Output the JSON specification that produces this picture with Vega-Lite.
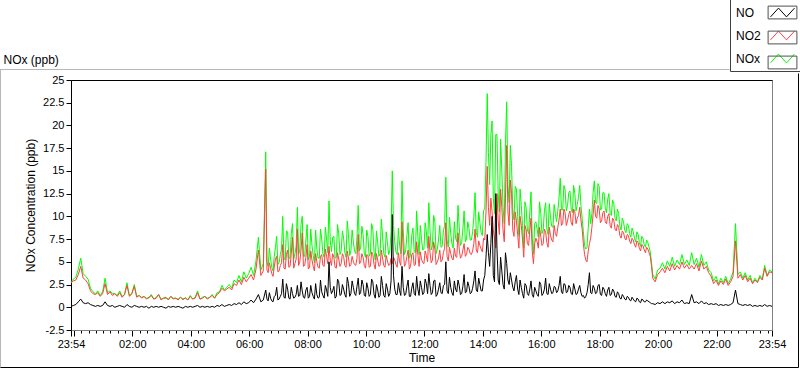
{
  "$schema": "https://vega.github.io/schema/vega-lite/v6.json",
  "width": 701,
  "height": 250,
  "autosize": {"type": "none"},
  "padding": {"left": 71, "top": 80, "right": 28, "bottom": 39},
  "background": "white",
  "data": {"values": [
{"m":0,"NO":0.1,"NO2":2.7,"NOx":2.8},{"m":5,"NO":0.2,"NO2":2.9,"NOx":3.1},{"m":10,"NO":0.3,"NO2":3.0,"NOx":3.3},{"m":15,"NO":0.6,"NO2":3.6,"NOx":4.2},{"m":20,"NO":0.9,"NO2":4.5,"NOx":5.4},{"m":25,"NO":0.5,"NO2":3.2,"NOx":3.7},{"m":30,"NO":0.4,"NO2":3.0,"NOx":3.4},{"m":35,"NO":0.5,"NO2":2.6,"NOx":3.1},{"m":40,"NO":0.3,"NO2":1.8,"NOx":2.1},{"m":45,"NO":0.2,"NO2":1.5,"NOx":1.7},
{"m":50,"NO":0.1,"NO2":1.4,"NOx":1.5},{"m":55,"NO":0.2,"NO2":1.6,"NOx":1.8},{"m":60,"NO":0.1,"NO2":1.2,"NOx":1.3},{"m":65,"NO":0.2,"NO2":1.5,"NOx":1.7},{"m":70,"NO":0.6,"NO2":2.6,"NOx":3.2},{"m":75,"NO":0.2,"NO2":1.4,"NOx":1.6},{"m":80,"NO":0.1,"NO2":1.7,"NOx":1.8},{"m":85,"NO":0.2,"NO2":1.3,"NOx":1.5},{"m":90,"NO":0.0,"NO2":1.5,"NOx":1.5},{"m":95,"NO":0.1,"NO2":1.2,"NOx":1.3},
{"m":100,"NO":0.2,"NO2":1.6,"NOx":1.8},{"m":105,"NO":0.1,"NO2":1.1,"NOx":1.2},{"m":110,"NO":0.0,"NO2":1.4,"NOx":1.4},{"m":115,"NO":0.3,"NO2":2.4,"NOx":2.7},{"m":120,"NO":0.1,"NO2":1.2,"NOx":1.3},{"m":125,"NO":0.0,"NO2":1.5,"NOx":1.5},{"m":130,"NO":0.2,"NO2":2.3,"NOx":2.5},{"m":135,"NO":0.1,"NO2":1.1,"NOx":1.2},{"m":140,"NO":0.0,"NO2":1.3,"NOx":1.3},{"m":145,"NO":0.1,"NO2":1.0,"NOx":1.1},
{"m":150,"NO":0.0,"NO2":1.2,"NOx":1.2},{"m":155,"NO":0.1,"NO2":0.9,"NOx":1.0},{"m":160,"NO":-0.1,"NO2":1.1,"NOx":1.0},{"m":165,"NO":0.1,"NO2":1.3,"NOx":1.4},{"m":170,"NO":0.0,"NO2":0.9,"NOx":0.9},{"m":175,"NO":0.1,"NO2":1.0,"NOx":1.1},{"m":180,"NO":0.0,"NO2":1.4,"NOx":1.4},{"m":185,"NO":0.1,"NO2":0.8,"NOx":0.9},{"m":190,"NO":0.0,"NO2":1.0,"NOx":1.0},{"m":195,"NO":-0.1,"NO2":1.1,"NOx":1.0},
{"m":200,"NO":0.1,"NO2":0.8,"NOx":0.9},{"m":205,"NO":0.0,"NO2":1.2,"NOx":1.2},{"m":210,"NO":0.1,"NO2":0.9,"NOx":1.0},{"m":215,"NO":0.0,"NO2":1.0,"NOx":1.0},{"m":220,"NO":0.1,"NO2":0.8,"NOx":0.9},{"m":225,"NO":0.0,"NO2":1.1,"NOx":1.1},{"m":230,"NO":-0.1,"NO2":0.9,"NOx":0.8},{"m":235,"NO":0.1,"NO2":1.0,"NOx":1.1},{"m":240,"NO":0.0,"NO2":0.8,"NOx":0.8},{"m":245,"NO":0.1,"NO2":1.2,"NOx":1.3},
{"m":250,"NO":0.0,"NO2":0.9,"NOx":0.9},{"m":255,"NO":0.1,"NO2":1.0,"NOx":1.1},{"m":260,"NO":0.2,"NO2":1.6,"NOx":1.8},{"m":265,"NO":0.0,"NO2":0.9,"NOx":0.9},{"m":270,"NO":0.1,"NO2":1.0,"NOx":1.1},{"m":275,"NO":0.0,"NO2":1.2,"NOx":1.2},{"m":280,"NO":0.1,"NO2":0.9,"NOx":1.0},{"m":285,"NO":0.0,"NO2":1.1,"NOx":1.1},{"m":290,"NO":0.1,"NO2":1.3,"NOx":1.4},{"m":295,"NO":0.0,"NO2":1.0,"NOx":1.0},
{"m":300,"NO":0.2,"NO2":1.4,"NOx":1.6},{"m":305,"NO":0.1,"NO2":1.6,"NOx":1.7},{"m":310,"NO":0.3,"NO2":2.1,"NOx":2.4},{"m":315,"NO":0.1,"NO2":1.8,"NOx":1.9},{"m":320,"NO":0.2,"NO2":2.0,"NOx":2.2},{"m":325,"NO":0.3,"NO2":2.2,"NOx":2.5},{"m":330,"NO":0.2,"NO2":1.9,"NOx":2.1},{"m":335,"NO":0.4,"NO2":2.6,"NOx":3.0},{"m":340,"NO":0.3,"NO2":2.4,"NOx":2.7},{"m":345,"NO":0.5,"NO2":3.0,"NOx":3.5},
{"m":350,"NO":0.3,"NO2":2.5,"NOx":2.8},{"m":355,"NO":0.6,"NO2":3.3,"NOx":3.9},{"m":360,"NO":0.4,"NO2":2.8,"NOx":3.2},{"m":365,"NO":0.5,"NO2":3.2,"NOx":3.7},{"m":370,"NO":0.8,"NO2":3.6,"NOx":4.4},{"m":375,"NO":0.5,"NO2":3.0,"NOx":3.5},{"m":380,"NO":0.9,"NO2":4.2,"NOx":5.1},{"m":385,"NO":1.4,"NO2":6.3,"NOx":7.7},{"m":390,"NO":0.6,"NO2":3.5,"NOx":4.1},{"m":395,"NO":0.8,"NO2":4.0,"NOx":4.8},
{"m":400,"NO":1.9,"NO2":15.2,"NOx":17.1},{"m":405,"NO":0.7,"NO2":3.8,"NOx":4.5},{"m":410,"NO":1.0,"NO2":4.3,"NOx":5.3},{"m":415,"NO":0.6,"NO2":3.4,"NOx":4.0},{"m":420,"NO":1.3,"NO2":5.3,"NOx":6.6},{"m":425,"NO":0.8,"NO2":3.9,"NOx":4.7},{"m":430,"NO":1.2,"NO2":4.6,"NOx":5.8},{"m":435,"NO":3.1,"NO2":6.9,"NOx":10.0},{"m":440,"NO":1.0,"NO2":4.2,"NOx":5.2},{"m":445,"NO":2.0,"NO2":6.3,"NOx":8.3},
{"m":450,"NO":0.9,"NO2":4.5,"NOx":5.4},{"m":455,"NO":1.5,"NO2":7.7,"NOx":9.2},{"m":460,"NO":1.1,"NO2":4.8,"NOx":5.9},{"m":465,"NO":2.4,"NO2":8.6,"NOx":11.0},{"m":470,"NO":1.3,"NO2":5.0,"NOx":6.3},{"m":475,"NO":1.8,"NO2":8.2,"NOx":10.0},{"m":480,"NO":1.0,"NO2":4.6,"NOx":5.6},{"m":485,"NO":2.2,"NO2":6.9,"NOx":9.1},{"m":490,"NO":1.2,"NO2":4.4,"NOx":5.6},{"m":495,"NO":1.6,"NO2":5.2,"NOx":6.8},
{"m":500,"NO":0.9,"NO2":4.0,"NOx":4.9},{"m":505,"NO":1.4,"NO2":5.0,"NOx":6.4},{"m":510,"NO":1.1,"NO2":4.3,"NOx":5.4},{"m":515,"NO":1.7,"NO2":5.8,"NOx":7.5},{"m":520,"NO":1.0,"NO2":4.5,"NOx":5.5},{"m":525,"NO":1.9,"NO2":5.6,"NOx":7.5},{"m":530,"NO":5.0,"NO2":6.7,"NOx":11.7},{"m":535,"NO":1.5,"NO2":4.6,"NOx":6.1},{"m":540,"NO":2.3,"NO2":5.5,"NOx":7.8},{"m":545,"NO":1.2,"NO2":4.3,"NOx":5.5},
{"m":550,"NO":2.8,"NO2":5.3,"NOx":8.1},{"m":555,"NO":1.4,"NO2":4.8,"NOx":6.2},{"m":560,"NO":2.0,"NO2":5.6,"NOx":7.6},{"m":565,"NO":1.1,"NO2":4.4,"NOx":5.5},{"m":570,"NO":2.6,"NO2":5.4,"NOx":8.0},{"m":575,"NO":1.5,"NO2":4.7,"NOx":6.2},{"m":580,"NO":2.2,"NO2":5.0,"NOx":7.2},{"m":585,"NO":1.3,"NO2":4.6,"NOx":5.9},{"m":590,"NO":3.2,"NO2":8.0,"NOx":11.2},{"m":595,"NO":1.6,"NO2":4.9,"NOx":6.5},
{"m":600,"NO":2.5,"NO2":5.5,"NOx":8.0},{"m":605,"NO":1.2,"NO2":4.3,"NOx":5.5},{"m":610,"NO":2.1,"NO2":5.7,"NOx":7.8},{"m":615,"NO":1.4,"NO2":4.5,"NOx":5.9},{"m":620,"NO":2.8,"NO2":5.8,"NOx":8.6},{"m":625,"NO":1.0,"NO2":4.2,"NOx":5.2},{"m":630,"NO":1.9,"NO2":5.2,"NOx":7.1},{"m":635,"NO":1.3,"NO2":4.6,"NOx":5.9},{"m":640,"NO":2.4,"NO2":5.4,"NOx":7.8},{"m":645,"NO":1.1,"NO2":4.4,"NOx":5.5},
{"m":650,"NO":2.0,"NO2":5.1,"NOx":7.1},{"m":655,"NO":1.5,"NO2":4.7,"NOx":6.2},{"m":660,"NO":10.2,"NO2":4.8,"NOx":15.0},{"m":665,"NO":2.0,"NO2":5.2,"NOx":7.2},{"m":670,"NO":1.4,"NO2":4.4,"NOx":5.8},{"m":675,"NO":1.8,"NO2":5.0,"NOx":6.8},{"m":680,"NO":4.5,"NO2":9.4,"NOx":13.9},{"m":685,"NO":1.3,"NO2":4.5,"NOx":5.8},{"m":690,"NO":2.3,"NO2":5.6,"NOx":7.9},{"m":695,"NO":1.2,"NO2":4.2,"NOx":5.4},
{"m":700,"NO":2.1,"NO2":5.8,"NOx":7.9},{"m":705,"NO":1.5,"NO2":4.6,"NOx":6.1},{"m":710,"NO":3.4,"NO2":7.2,"NOx":10.6},{"m":715,"NO":1.3,"NO2":4.5,"NOx":5.8},{"m":720,"NO":2.2,"NO2":5.3,"NOx":7.5},{"m":725,"NO":1.6,"NO2":4.8,"NOx":6.4},{"m":730,"NO":2.6,"NO2":5.7,"NOx":8.3},{"m":735,"NO":3.7,"NO2":7.8,"NOx":11.5},{"m":740,"NO":1.4,"NO2":4.9,"NOx":6.3},{"m":745,"NO":2.9,"NO2":7.2,"NOx":10.1},
{"m":750,"NO":1.2,"NO2":4.7,"NOx":5.9},{"m":755,"NO":2.0,"NO2":5.4,"NOx":7.4},{"m":760,"NO":1.6,"NO2":5.0,"NOx":6.6},{"m":765,"NO":2.4,"NO2":6.0,"NOx":8.4},{"m":770,"NO":5.0,"NO2":9.3,"NOx":14.3},{"m":775,"NO":1.5,"NO2":5.1,"NOx":6.6},{"m":780,"NO":2.2,"NO2":5.9,"NOx":8.1},{"m":785,"NO":1.3,"NO2":5.2,"NOx":6.5},{"m":790,"NO":2.0,"NO2":5.6,"NOx":7.6},{"m":795,"NO":3.0,"NO2":8.2,"NOx":11.2},
{"m":800,"NO":1.4,"NO2":5.4,"NOx":6.8},{"m":805,"NO":2.3,"NO2":6.3,"NOx":8.6},{"m":810,"NO":1.6,"NO2":5.6,"NOx":7.2},{"m":815,"NO":2.8,"NO2":6.6,"NOx":9.4},{"m":820,"NO":1.5,"NO2":5.9,"NOx":7.4},{"m":825,"NO":2.1,"NO2":6.2,"NOx":8.3},{"m":830,"NO":4.0,"NO2":8.6,"NOx":12.6},{"m":835,"NO":1.7,"NO2":6.0,"NOx":7.7},{"m":840,"NO":2.5,"NO2":6.8,"NOx":9.3},{"m":845,"NO":1.8,"NO2":6.1,"NOx":7.9},
{"m":850,"NO":3.5,"NO2":7.4,"NOx":10.9},{"m":855,"NO":8.0,"NO2":15.5,"NOx":23.5},{"m":860,"NO":4.5,"NO2":9.0,"NOx":13.5},{"m":865,"NO":10.0,"NO2":10.5,"NOx":20.5},{"m":870,"NO":2.8,"NO2":7.5,"NOx":10.3},{"m":875,"NO":6.5,"NO2":12.5,"NOx":19.0},{"m":880,"NO":2.5,"NO2":8.0,"NOx":10.5},{"m":885,"NO":4.0,"NO2":11.0,"NOx":15.0},{"m":890,"NO":2.0,"NO2":7.2,"NOx":9.2},{"m":895,"NO":4.8,"NO2":17.8,"NOx":22.6},
{"m":900,"NO":2.5,"NO2":9.0,"NOx":11.5},{"m":905,"NO":3.0,"NO2":12.5,"NOx":15.5},{"m":910,"NO":1.8,"NO2":7.8,"NOx":9.6},{"m":915,"NO":3.5,"NO2":9.5,"NOx":13.0},{"m":920,"NO":1.4,"NO2":6.5,"NOx":7.9},{"m":925,"NO":2.2,"NO2":9.0,"NOx":11.2},{"m":930,"NO":1.0,"NO2":5.5,"NOx":6.5},{"m":935,"NO":2.4,"NO2":8.5,"NOx":10.9},{"m":940,"NO":1.3,"NO2":6.8,"NOx":8.1},{"m":945,"NO":2.9,"NO2":9.8,"NOx":12.7},
{"m":950,"NO":1.1,"NO2":4.8,"NOx":5.9},{"m":955,"NO":1.8,"NO2":7.6,"NOx":9.4},{"m":960,"NO":1.2,"NO2":6.5,"NOx":7.7},{"m":965,"NO":2.5,"NO2":7.8,"NOx":10.3},{"m":970,"NO":1.5,"NO2":7.0,"NOx":8.5},{"m":975,"NO":3.2,"NO2":8.3,"NOx":11.5},{"m":980,"NO":1.4,"NO2":6.6,"NOx":8.0},{"m":985,"NO":2.0,"NO2":7.9,"NOx":9.9},{"m":990,"NO":1.6,"NO2":7.2,"NOx":8.8},{"m":995,"NO":2.2,"NO2":8.1,"NOx":10.3},
{"m":1000,"NO":1.8,"NO2":8.8,"NOx":10.6},{"m":1005,"NO":3.4,"NO2":10.8,"NOx":14.2},{"m":1010,"NO":1.5,"NO2":9.2,"NOx":10.7},{"m":1015,"NO":2.5,"NO2":10.4,"NOx":12.9},{"m":1020,"NO":1.7,"NO2":9.5,"NOx":11.2},{"m":1025,"NO":2.2,"NO2":10.6,"NOx":12.8},{"m":1030,"NO":1.4,"NO2":9.0,"NOx":10.4},{"m":1035,"NO":2.0,"NO2":10.5,"NOx":12.5},{"m":1040,"NO":1.5,"NO2":9.8,"NOx":11.3},{"m":1045,"NO":2.4,"NO2":11.0,"NOx":13.4},
{"m":1050,"NO":1.2,"NO2":8.6,"NOx":9.8},{"m":1055,"NO":1.0,"NO2":5.8,"NOx":6.8},{"m":1060,"NO":1.6,"NO2":5.0,"NOx":6.6},{"m":1065,"NO":3.8,"NO2":7.0,"NOx":10.8},{"m":1070,"NO":1.5,"NO2":8.8,"NOx":10.3},{"m":1075,"NO":2.1,"NO2":11.8,"NOx":13.9},{"m":1080,"NO":1.6,"NO2":9.8,"NOx":11.4},{"m":1085,"NO":2.5,"NO2":10.8,"NOx":13.3},{"m":1090,"NO":1.3,"NO2":9.5,"NOx":10.8},{"m":1095,"NO":2.0,"NO2":10.6,"NOx":12.6},
{"m":1100,"NO":1.2,"NO2":9.2,"NOx":10.4},{"m":1105,"NO":2.2,"NO2":10.3,"NOx":12.5},{"m":1110,"NO":1.4,"NO2":8.7,"NOx":10.1},{"m":1115,"NO":1.8,"NO2":9.6,"NOx":11.4},{"m":1120,"NO":1.1,"NO2":8.4,"NOx":9.5},{"m":1125,"NO":1.5,"NO2":8.8,"NOx":10.3},{"m":1130,"NO":0.9,"NO2":7.6,"NOx":8.5},{"m":1135,"NO":1.2,"NO2":8.2,"NOx":9.4},{"m":1140,"NO":0.8,"NO2":7.4,"NOx":8.2},{"m":1145,"NO":1.1,"NO2":7.9,"NOx":9.0},
{"m":1150,"NO":0.7,"NO2":7.0,"NOx":7.7},{"m":1155,"NO":0.9,"NO2":7.4,"NOx":8.3},{"m":1160,"NO":0.6,"NO2":6.6,"NOx":7.2},{"m":1165,"NO":0.9,"NO2":7.1,"NOx":8.0},{"m":1170,"NO":0.5,"NO2":6.2,"NOx":6.7},{"m":1175,"NO":0.8,"NO2":6.8,"NOx":7.6},{"m":1180,"NO":0.6,"NO2":6.0,"NOx":6.6},{"m":1185,"NO":0.7,"NO2":6.4,"NOx":7.1},{"m":1190,"NO":0.5,"NO2":5.6,"NOx":6.1},{"m":1195,"NO":0.4,"NO2":3.2,"NOx":3.6},
{"m":1200,"NO":0.3,"NO2":2.8,"NOx":3.1},{"m":1205,"NO":0.5,"NO2":3.6,"NOx":4.1},{"m":1210,"NO":0.4,"NO2":3.9,"NOx":4.3},{"m":1215,"NO":0.6,"NO2":4.3,"NOx":4.9},{"m":1220,"NO":0.4,"NO2":3.8,"NOx":4.2},{"m":1225,"NO":0.6,"NO2":4.5,"NOx":5.1},{"m":1230,"NO":0.5,"NO2":4.0,"NOx":4.5},{"m":1235,"NO":0.7,"NO2":4.8,"NOx":5.5},{"m":1240,"NO":0.4,"NO2":4.1,"NOx":4.5},{"m":1245,"NO":0.6,"NO2":4.6,"NOx":5.2},
{"m":1250,"NO":0.5,"NO2":4.2,"NOx":4.7},{"m":1255,"NO":0.8,"NO2":5.0,"NOx":5.8},{"m":1260,"NO":0.4,"NO2":4.3,"NOx":4.7},{"m":1265,"NO":0.5,"NO2":4.7,"NOx":5.2},{"m":1270,"NO":0.4,"NO2":4.2,"NOx":4.6},{"m":1275,"NO":1.4,"NO2":4.6,"NOx":6.0},{"m":1280,"NO":0.5,"NO2":4.2,"NOx":4.7},{"m":1285,"NO":0.6,"NO2":4.8,"NOx":5.4},{"m":1290,"NO":0.4,"NO2":4.0,"NOx":4.4},{"m":1295,"NO":0.7,"NO2":5.1,"NOx":5.8},
{"m":1300,"NO":0.4,"NO2":4.2,"NOx":4.6},{"m":1305,"NO":0.5,"NO2":4.5,"NOx":5.0},{"m":1310,"NO":0.3,"NO2":3.8,"NOx":4.1},{"m":1315,"NO":0.4,"NO2":3.4,"NOx":3.8},{"m":1320,"NO":0.3,"NO2":2.6,"NOx":2.9},{"m":1325,"NO":0.4,"NO2":3.0,"NOx":3.4},{"m":1330,"NO":0.2,"NO2":2.4,"NOx":2.6},{"m":1335,"NO":0.3,"NO2":2.9,"NOx":3.2},{"m":1340,"NO":0.2,"NO2":2.5,"NOx":2.7},{"m":1345,"NO":0.3,"NO2":3.1,"NOx":3.4},
{"m":1350,"NO":0.2,"NO2":2.4,"NOx":2.6},{"m":1355,"NO":0.3,"NO2":2.8,"NOx":3.1},{"m":1360,"NO":0.5,"NO2":3.4,"NOx":3.9},{"m":1365,"NO":1.9,"NO2":7.3,"NOx":9.2},{"m":1370,"NO":0.4,"NO2":3.2,"NOx":3.6},{"m":1375,"NO":0.3,"NO2":3.6,"NOx":3.9},{"m":1380,"NO":0.2,"NO2":3.0,"NOx":3.2},{"m":1385,"NO":0.3,"NO2":3.5,"NOx":3.8},{"m":1390,"NO":0.2,"NO2":2.8,"NOx":3.0},{"m":1395,"NO":0.3,"NO2":3.2,"NOx":3.5},
{"m":1400,"NO":0.1,"NO2":2.6,"NOx":2.7},{"m":1405,"NO":0.2,"NO2":3.0,"NOx":3.2},{"m":1410,"NO":0.1,"NO2":2.7,"NOx":2.8},{"m":1415,"NO":0.2,"NO2":3.3,"NOx":3.5},{"m":1420,"NO":0.1,"NO2":3.0,"NOx":3.1},{"m":1425,"NO":0.3,"NO2":4.3,"NOx":4.6},{"m":1430,"NO":0.1,"NO2":3.4,"NOx":3.5},{"m":1435,"NO":0.2,"NO2":3.9,"NOx":4.1},{"m":1440,"NO":0.1,"NO2":3.8,"NOx":3.9},
{"m":402.5,"NO":0.9,"NO2":4.1,"NOx":5.0},{"m":407.5,"NO":1.6,"NO2":4.9,"NOx":6.5},{"m":412.5,"NO":0.7,"NO2":3.7,"NOx":4.4},{"m":417.5,"NO":1.2,"NO2":4.4,"NOx":5.6},{"m":422.5,"NO":2.2,"NO2":5.6,"NOx":7.8},{"m":427.5,"NO":0.9,"NO2":4.0,"NOx":4.9},{"m":432.5,"NO":1.5,"NO2":4.9,"NOx":6.4},{"m":437.5,"NO":1.1,"NO2":4.3,"NOx":5.4},{"m":442.5,"NO":2.6,"NO2":5.8,"NOx":8.4},{"m":447.5,"NO":1.0,"NO2":4.4,"NOx":5.4},
{"m":452.5,"NO":2.2,"NO2":5.9,"NOx":8.1},{"m":457.5,"NO":1.0,"NO2":4.3,"NOx":5.3},{"m":462.5,"NO":1.4,"NO2":5.3,"NOx":6.7},{"m":467.5,"NO":1.2,"NO2":4.6,"NOx":5.8},{"m":472.5,"NO":2.8,"NO2":6.3,"NOx":9.1},{"m":477.5,"NO":1.1,"NO2":4.5,"NOx":5.6},{"m":482.5,"NO":1.9,"NO2":5.5,"NOx":7.4},{"m":487.5,"NO":1.0,"NO2":4.2,"NOx":5.2},{"m":492.5,"NO":2.4,"NO2":6.2,"NOx":8.6},{"m":497.5,"NO":1.2,"NO2":4.5,"NOx":5.7},
{"m":502.5,"NO":2.6,"NO2":5.9,"NOx":8.5},{"m":507.5,"NO":1.0,"NO2":4.4,"NOx":5.4},{"m":512.5,"NO":3.0,"NO2":5.6,"NOx":8.6},{"m":517.5,"NO":1.3,"NO2":4.6,"NOx":5.9},{"m":522.5,"NO":2.4,"NO2":6.4,"NOx":8.8},{"m":527.5,"NO":1.2,"NO2":4.8,"NOx":6.0},{"m":532.5,"NO":2.2,"NO2":5.2,"NOx":7.4},{"m":537.5,"NO":1.8,"NO2":5.9,"NOx":7.7},{"m":542.5,"NO":1.0,"NO2":4.4,"NOx":5.4},{"m":547.5,"NO":3.1,"NO2":6.0,"NOx":9.1},
{"m":552.5,"NO":1.3,"NO2":4.5,"NOx":5.8},{"m":557.5,"NO":2.5,"NO2":5.9,"NOx":8.4},{"m":562.5,"NO":1.4,"NO2":4.6,"NOx":6.0},{"m":567.5,"NO":3.3,"NO2":6.2,"NOx":9.5},{"m":572.5,"NO":1.2,"NO2":4.5,"NOx":5.7},{"m":577.5,"NO":2.9,"NO2":5.6,"NOx":8.5},{"m":582.5,"NO":1.5,"NO2":4.7,"NOx":6.2},{"m":587.5,"NO":2.3,"NO2":5.4,"NOx":7.7},{"m":592.5,"NO":1.4,"NO2":4.8,"NOx":6.2},{"m":597.5,"NO":3.0,"NO2":5.9,"NOx":8.9},
{"m":602.5,"NO":1.3,"NO2":4.6,"NOx":5.9},{"m":607.5,"NO":2.7,"NO2":5.8,"NOx":8.5},{"m":612.5,"NO":1.2,"NO2":4.4,"NOx":5.6},{"m":617.5,"NO":3.1,"NO2":6.1,"NOx":9.2},{"m":622.5,"NO":1.4,"NO2":4.7,"NOx":6.1},{"m":627.5,"NO":2.5,"NO2":5.9,"NOx":8.4},{"m":632.5,"NO":1.1,"NO2":4.5,"NOx":5.6},{"m":637.5,"NO":3.4,"NO2":6.3,"NOx":9.7},{"m":642.5,"NO":1.3,"NO2":4.6,"NOx":5.9},{"m":647.5,"NO":2.6,"NO2":5.7,"NOx":8.3},
{"m":652.5,"NO":1.2,"NO2":4.6,"NOx":5.8},{"m":657.5,"NO":2.9,"NO2":5.4,"NOx":8.3},{"m":662.5,"NO":3.5,"NO2":5.5,"NOx":9.0},{"m":667.5,"NO":1.4,"NO2":4.7,"NOx":6.1},{"m":672.5,"NO":2.7,"NO2":6.0,"NOx":8.7},{"m":677.5,"NO":1.3,"NO2":4.6,"NOx":5.9},{"m":682.5,"NO":2.2,"NO2":6.3,"NOx":8.5},{"m":687.5,"NO":1.4,"NO2":4.8,"NOx":6.2},{"m":692.5,"NO":3.0,"NO2":6.3,"NOx":9.3},{"m":697.5,"NO":1.2,"NO2":4.5,"NOx":5.7},
{"m":702.5,"NO":2.7,"NO2":6.0,"NOx":8.7},{"m":707.5,"NO":1.3,"NO2":4.7,"NOx":6.0},{"m":712.5,"NO":2.0,"NO2":5.8,"NOx":7.8},{"m":717.5,"NO":2.9,"NO2":6.1,"NOx":9.0},{"m":722.5,"NO":1.4,"NO2":4.9,"NOx":6.3},{"m":727.5,"NO":3.1,"NO2":6.2,"NOx":9.3},{"m":732.5,"NO":1.5,"NO2":5.0,"NOx":6.5},{"m":737.5,"NO":2.4,"NO2":6.0,"NOx":8.4},{"m":742.5,"NO":1.6,"NO2":5.2,"NOx":6.8},{"m":747.5,"NO":3.0,"NO2":6.4,"NOx":9.4},
{"m":752.5,"NO":1.4,"NO2":5.0,"NOx":6.4},{"m":757.5,"NO":2.7,"NO2":6.3,"NOx":9.0},{"m":762.5,"NO":1.5,"NO2":5.2,"NOx":6.7},{"m":767.5,"NO":2.5,"NO2":6.5,"NOx":9.0},{"m":772.5,"NO":1.8,"NO2":5.6,"NOx":7.4},{"m":777.5,"NO":3.3,"NO2":6.6,"NOx":9.9},{"m":782.5,"NO":1.6,"NO2":5.4,"NOx":7.0},{"m":787.5,"NO":2.9,"NO2":6.5,"NOx":9.4},{"m":792.5,"NO":1.7,"NO2":5.5,"NOx":7.2},{"m":797.5,"NO":2.4,"NO2":6.4,"NOx":8.8},
{"m":802.5,"NO":1.5,"NO2":5.6,"NOx":7.1},{"m":807.5,"NO":3.6,"NO2":7.0,"NOx":10.6},{"m":812.5,"NO":1.7,"NO2":5.8,"NOx":7.5},{"m":817.5,"NO":2.3,"NO2":6.4,"NOx":8.7},{"m":822.5,"NO":1.6,"NO2":5.8,"NOx":7.4},{"m":827.5,"NO":2.9,"NO2":7.0,"NOx":9.9},{"m":832.5,"NO":1.9,"NO2":6.3,"NOx":8.2},{"m":837.5,"NO":3.2,"NO2":7.3,"NOx":10.5},{"m":842.5,"NO":1.8,"NO2":6.4,"NOx":8.2},{"m":847.5,"NO":3.0,"NO2":7.6,"NOx":10.6},
{"m":852.5,"NO":5.5,"NO2":10.5,"NOx":16.0},{"m":857.5,"NO":6.0,"NO2":11.0,"NOx":17.0},{"m":862.5,"NO":7.0,"NO2":12.0,"NOx":19.0},{"m":867.5,"NO":3.5,"NO2":8.5,"NOx":12.0},{"m":872.5,"NO":12.5,"NO2":6.5,"NOx":19.0},{"m":877.5,"NO":3.0,"NO2":9.5,"NOx":12.5},{"m":882.5,"NO":5.5,"NO2":13.0,"NOx":18.5},{"m":887.5,"NO":2.5,"NO2":8.5,"NOx":11.0},{"m":892.5,"NO":6.0,"NO2":12.0,"NOx":18.0},{"m":897.5,"NO":3.0,"NO2":10.5,"NOx":13.5},
{"m":902.5,"NO":3.8,"NO2":14.0,"NOx":17.8},{"m":907.5,"NO":2.2,"NO2":8.5,"NOx":10.7},{"m":912.5,"NO":2.8,"NO2":10.5,"NOx":13.3},{"m":917.5,"NO":2.0,"NO2":8.0,"NOx":10.0},{"m":922.5,"NO":3.0,"NO2":10.0,"NOx":13.0},{"m":927.5,"NO":1.5,"NO2":7.5,"NOx":9.0},{"m":932.5,"NO":2.6,"NO2":9.0,"NOx":11.6},{"m":937.5,"NO":1.5,"NO2":7.0,"NOx":8.5},{"m":942.5,"NO":2.0,"NO2":8.5,"NOx":10.5},{"m":947.5,"NO":1.4,"NO2":6.2,"NOx":7.6},
{"m":952.5,"NO":2.2,"NO2":7.0,"NOx":9.2},{"m":957.5,"NO":1.4,"NO2":7.2,"NOx":8.6},{"m":962.5,"NO":2.8,"NO2":8.8,"NOx":11.6},{"m":967.5,"NO":1.3,"NO2":6.8,"NOx":8.1},{"m":972.5,"NO":2.0,"NO2":8.6,"NOx":10.6},{"m":977.5,"NO":1.5,"NO2":7.1,"NOx":8.6},{"m":982.5,"NO":2.6,"NO2":8.8,"NOx":11.4},{"m":987.5,"NO":1.5,"NO2":7.4,"NOx":8.9},{"m":992.5,"NO":2.3,"NO2":9.0,"NOx":11.3},{"m":997.5,"NO":1.6,"NO2":7.8,"NOx":9.4},
{"m":1002.5,"NO":2.4,"NO2":9.6,"NOx":12.0},{"m":1007.5,"NO":1.7,"NO2":9.0,"NOx":10.7},{"m":1012.5,"NO":2.6,"NO2":10.8,"NOx":13.4},{"m":1017.5,"NO":1.6,"NO2":9.0,"NOx":10.6},{"m":1022.5,"NO":2.4,"NO2":10.2,"NOx":12.6},{"m":1027.5,"NO":1.5,"NO2":9.3,"NOx":10.8},{"m":1032.5,"NO":2.6,"NO2":10.8,"NOx":13.4},{"m":1037.5,"NO":1.4,"NO2":9.2,"NOx":10.6},{"m":1042.5,"NO":2.0,"NO2":10.1,"NOx":12.1},{"m":1047.5,"NO":1.6,"NO2":9.6,"NOx":11.2},
{"m":1052.5,"NO":1.3,"NO2":7.0,"NOx":8.3},{"m":1057.5,"NO":1.2,"NO2":5.2,"NOx":6.4},{"m":1062.5,"NO":2.5,"NO2":6.2,"NOx":8.7},{"m":1067.5,"NO":1.6,"NO2":7.6,"NOx":9.2},{"m":1072.5,"NO":2.4,"NO2":10.2,"NOx":12.6},{"m":1077.5,"NO":1.5,"NO2":10.0,"NOx":11.5},{"m":1082.5,"NO":2.4,"NO2":11.2,"NOx":13.6},{"m":1087.5,"NO":1.4,"NO2":9.3,"NOx":10.7},{"m":1092.5,"NO":2.2,"NO2":10.4,"NOx":12.6},{"m":1097.5,"NO":1.5,"NO2":9.4,"NOx":10.9},
{"m":1102.5,"NO":1.9,"NO2":10.0,"NOx":11.9},{"m":1107.5,"NO":1.3,"NO2":9.0,"NOx":10.3},{"m":1112.5,"NO":2.0,"NO2":9.8,"NOx":11.8},{"m":1117.5,"NO":1.2,"NO2":8.6,"NOx":9.8},{"m":1122.5,"NO":1.7,"NO2":9.1,"NOx":10.8},{"m":1127.5,"NO":1.0,"NO2":7.9,"NOx":8.9},{"m":1132.5,"NO":1.4,"NO2":8.4,"NOx":9.8},{"m":1137.5,"NO":0.9,"NO2":7.6,"NOx":8.5},{"m":1142.5,"NO":1.2,"NO2":8.0,"NOx":9.2},{"m":1147.5,"NO":0.8,"NO2":7.3,"NOx":8.1},
{"m":1152.5,"NO":1.1,"NO2":7.6,"NOx":8.7},{"m":1157.5,"NO":0.7,"NO2":6.9,"NOx":7.6},{"m":1162.5,"NO":1.0,"NO2":7.3,"NOx":8.3},{"m":1167.5,"NO":0.6,"NO2":6.5,"NOx":7.1},{"m":1172.5,"NO":0.9,"NO2":6.9,"NOx":7.8},{"m":1177.5,"NO":0.6,"NO2":6.3,"NOx":6.9},{"m":1182.5,"NO":0.8,"NO2":6.6,"NOx":7.4},{"m":1187.5,"NO":0.6,"NO2":6.0,"NOx":6.6},{"m":1192.5,"NO":0.4,"NO2":4.5,"NOx":4.9}
  ]},
  "layer": [
    {
      "mark": {"type": "line", "strokeWidth": 1, "interpolate": "linear"},
      "encoding": {
        "x": {"field": "m", "type": "quantitative", "scale": {"domain": [0, 1440], "nice": false, "zero": false},
          "axis": {"title": "Time", "values": [0,6,21,36,51,66,81,96,111,126,141,156,171,186,201,216,231,246,261,276,291,306,321,336,351,366,381,396,411,426,441,456,471,486,501,516,531,546,561,576,591,606,621,636,651,666,681,696,711,726,741,756,771,786,801,816,831,846,861,876,891,906,921,936,951,966,981,996,1011,1026,1041,1056,1071,1086,1101,1116,1131,1146,1161,1176,1191,1206,1221,1236,1251,1266,1281,1296,1311,1326,1341,1356,1371,1386,1401,1416,1431,1440],
            "labelExpr": "datum.value == 0 || datum.value == 1440 ? '23:54' : ((datum.value - 6) % 120 == 0 && datum.value != 6 ? (((datum.value - 6) / 60 < 10) ? '0' : '') + ((datum.value - 6) / 60) + ':00' : '')",
            "tickSize": {"condition": {"test": "datum.value == 0 || datum.value == 1440 || (datum.value - 6) % 120 == 0", "value": 6}, "value": 3},
            "labelFlush": false, "labelOverlap": false, "labelBound": false, "labelPadding": 2,
            "domainColor": "#808080", "titlePadding": 3}},
        "y": {"field": "NOx", "type": "quantitative", "title": "NOx Concentration (ppb)",
          "scale": {"domain": [-2.5, 25], "nice": false, "zero": false},
          "axis": {"orient": "left", "values": [-2.5,0,2.5,5,7.5,10,12.5,15,17.5,20,22.5,25], "labelExpr": "'' + datum.value", "tickSize": 5, "labelPadding": 2, "domainColor": "#000000", "titlePadding": 5, "labelFlush": false, "labelOverlap": false, "labelBound": false}},
        "color": {"datum": "NOx", "type": "nominal",
          "scale": {"domain": ["NO", "NO2", "NOx"], "range": ["#000000", "#ff4040", "#00ff00"]},
          "legend": {"orient": "none", "legendX": 659, "legendY": -82, "title": null,
            "symbolType": "M-1.5,0.55L-0.5,-0.55L0.5,0.55L1.5,-0.55", "symbolSize": 256, "symbolStrokeWidth": 1,
            "symbolFillColor": "transparent", "symbolOffset": 38, "labelOffset": -55, "rowPadding": 8,
            "labelFontSize": 12, "labelFont": "Liberation Sans", "labelColor": "#000000",
            "strokeColor": "#404040", "fillColor": "#ffffff", "padding": 6}}
      }
    },
    {
      "mark": {"type": "line", "strokeWidth": 1, "interpolate": "linear"},
      "encoding": {
        "x": {"field": "m", "type": "quantitative", "axis": {"orient": "top", "labels": false, "ticks": false, "title": null, "domainColor": "#000000"}},
        "y": {"field": "NO2", "type": "quantitative",
          "axis": {"orient": "left", "title": "NOx (ppb)", "titleX": -68, "titleY": -17, "titleAngle": 0, "titleAlign": "left", "titleBaseline": "alphabetic", "labels": false, "ticks": false, "domain": false}},
        "color": {"datum": "NO2", "type": "nominal"}
      }
    },
    {
      "mark": {"type": "line", "strokeWidth": 1, "interpolate": "linear"},
      "encoding": {
        "x": {"field": "m", "type": "quantitative", "axis": null},
        "y": {"field": "NO", "type": "quantitative", "axis": null},
        "color": {"datum": "NO", "type": "nominal"}
      }
    },
    {
      "transform": [{"filter": "false"}],
      "mark": {"type": "point", "filled": false, "opacity": 1, "color": "#505050", "strokeWidth": 1},
      "encoding": {
        "x": {"field": "m", "type": "quantitative", "axis": null},
        "y": {"field": "NO", "type": "quantitative", "axis": null},
        "shape": {"datum": "b1", "type": "nominal",
          "scale": {"domain": ["b1", "b2", "b3"], "range": ["M-1.8,-0.8H1.8V0.8H-1.8Z", "M-1.8,-0.8H1.8V0.8H-1.8Z", "M-1.8,-0.8H1.8V0.8H-1.8Z"]},
          "legend": {"orient": "none", "legendX": 659, "legendY": -82, "title": null,
            "symbolSize": 256, "symbolStrokeWidth": 1, "symbolStrokeColor": "#505050", "symbolFillColor": "transparent",
            "symbolOffset": 38, "labelOffset": -55, "rowPadding": 8, "labelFontSize": 12, "labelFont": "Liberation Sans", "labelExpr": "''", "padding": 6}}
      }
    },
    {
      "transform": [{"filter": "false"}],
      "mark": {"type": "point", "filled": false, "opacity": 1, "color": "#505050", "strokeWidth": 1},
      "encoding": {
        "x": {"field": "m", "type": "quantitative", "axis": null},
        "y": {"field": "NO", "type": "quantitative", "axis": null},
        "shape": {"datum": "b2", "type": "nominal"}
      }
    },
    {
      "transform": [{"filter": "false"}],
      "mark": {"type": "point", "filled": false, "opacity": 1, "color": "#505050", "strokeWidth": 1},
      "encoding": {
        "x": {"field": "m", "type": "quantitative", "axis": null},
        "y": {"field": "NO", "type": "quantitative", "axis": null},
        "shape": {"datum": "b3", "type": "nominal"}
      }
    },
    {
      "transform": [{"filter": "false"}],
      "mark": {"type": "line", "color": "#a0a0a0", "strokeWidth": 1},
      "encoding": {
        "x": {"field": "m", "type": "quantitative", "axis": null},
        "y": {"field": "NO", "type": "quantitative", "axis": null},
        "strokeDash": {"datum": "frame", "type": "nominal",
          "scale": {"domain": ["frame"], "range": [[1, 0]]},
          "legend": {"orient": "none", "legendX": 327, "legendY": 137, "title": null,
            "symbolType": "M330,-149H-399V149", "symbolSize": 4, "symbolStrokeWidth": 1, "symbolStrokeColor": "#a0a0a0", "symbolFillColor": "transparent",
            "symbolOffset": 0, "labelFontSize": 1, "labelExpr": "''", "padding": 0}}
      }
    },
    {
      "transform": [{"filter": "false"}],
      "mark": {"type": "line", "strokeWidth": 1},
      "encoding": {
        "x": {"field": "m", "type": "quantitative", "axis": null},
        "y": {"field": "NO", "type": "quantitative", "axis": null},
        "stroke": {"datum": "k", "type": "nominal",
          "scale": {"domain": ["k"], "range": ["#000000"]},
          "legend": {"orient": "none", "legendX": 327, "legendY": 137, "title": null,
            "symbolType": "M399,-145V149H-399", "symbolSize": 4, "symbolStrokeWidth": 1, "symbolFillColor": "transparent",
            "symbolOffset": 0, "labelFontSize": 1, "labelExpr": "''", "padding": 0}}
      }
    }
  ],
  "resolve": {"axis": {"x": "independent", "y": "independent"}},
  "config": {
    "view": {"stroke": "#808080"},
    "font": "Liberation Sans",
    "axis": {"grid": false, "labelFont": "Liberation Sans", "labelFontSize": 11, "labelColor": "#000000", "titleFont": "Liberation Sans", "titleFontSize": 12, "titleFontWeight": "normal", "titleColor": "#000000", "tickColor": "#000000"}
  }
}
